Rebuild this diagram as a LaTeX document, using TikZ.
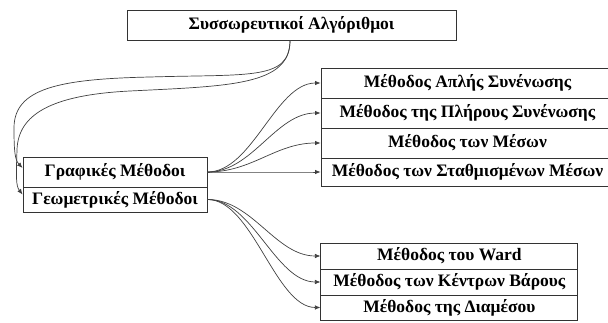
\documentclass[tikz,border=0pt]{standalone}
\usepackage{fontspec}
\setmainfont{Liberation Serif}
\usetikzlibrary{arrows.meta,calc}

\tikzset{
  cell/.style={draw=black!80, line width=0.9pt, fill=white, inner sep=0pt,
    font=\fontsize{17.5}{19}\selectfont\bfseries, text=black},
  link/.style={draw=black!75, line width=0.7pt,
    -{Latex[length=5.5pt,width=4.5pt]}},
}

\begin{document}
\begin{tikzpicture}[x=1pt, y=-1pt]
  \useasboundingbox (0,0) rectangle (608,323);

  % root
  \node[cell, minimum width=329pt, minimum height=30pt] (top) at (291.5,25)
    {Συσσωρευτικοί Αλγόριθμοι};

  % two families
  \node[cell, minimum width=184pt, minimum height=30pt] (g1) at (115,172)
    {Γραφικές Μέθοδοι};
  \node[cell, minimum width=184pt, minimum height=25pt] (g2) at (115,199.5)
    {Γεωμετρικές Μέθοδοι};

  % graphical methods
  \node[cell, minimum width=293pt, minimum height=30pt] (r1) at (467.5,83)
    {Μέθοδος Απλής Συνένωσης};
  \node[cell, minimum width=293pt, minimum height=30pt] (r2) at (467.5,113)
    {Μέθοδος της Πλήρους Συνένωσης};
  \node[cell, minimum width=293pt, minimum height=30pt] (r3) at (467.5,143)
    {Μέθοδος των Μέσων};
  \node[cell, minimum width=293pt, minimum height=28pt] (r4) at (467.5,172)
    {Μέθοδος των Σταθμισμένων Μέσων};

  % geometric methods
  \node[cell, minimum width=257pt, minimum height=26pt] (b1) at (449.4,256)
    {Μέθοδος του Ward};
  \node[cell, minimum width=257pt, minimum height=26pt] (b2) at (449.4,282)
    {Μέθοδος των Κέντρων Βάρους};
  \node[cell, minimum width=257pt, minimum height=25pt] (b3) at (449.4,307.5)
    {Μέθοδος της Διαμέσου};

  % root to families
  \draw[link] ($(top.south)+(-1.5,0)$) .. controls +(0,40) and (250,74) .. (150,77)
    .. controls (60,79) and (14,88) .. (14,128)
    .. controls (14,152) and (15,160) .. ($(g1.west)+(0,-4)$);
  \draw[link] ($(top.south)+(-1.5,0)$) .. controls +(0,45) and (230,86) .. (130,91)
    .. controls (50,95) and (18,115) .. (17,150)
    .. controls (16,178) and (16,186) .. ($(g2.west)+(0,-5)$);

  % graphical family to its methods
  \foreach \t in {r1,r2,r3,r4}
    \draw[link] (g1.east) .. controls +(45,0) and +(-45,0) .. (\t.west);

  % geometric family to its methods
  \foreach \t in {b1,b2,b3}
    \draw[link] (g2.east) .. controls +(45,0) and +(-45,0) .. (\t.west);
\end{tikzpicture}
\end{document}
